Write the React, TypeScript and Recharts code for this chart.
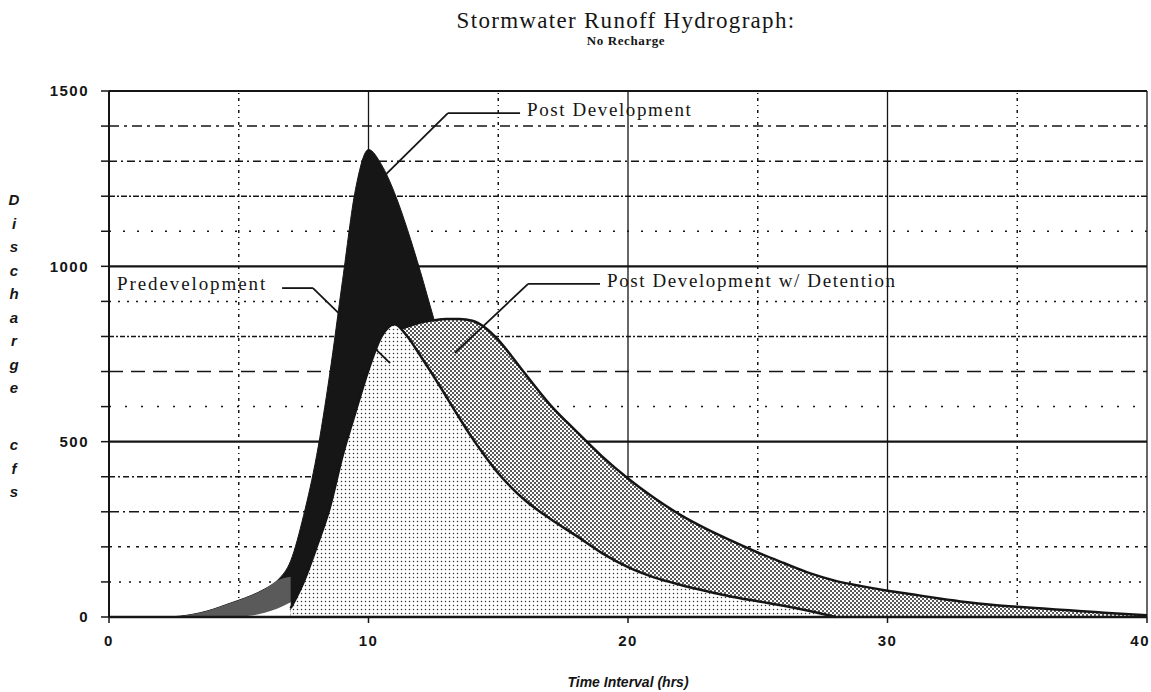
import React from "react";
import { Area, ComposedChart, ReferenceLine, XAxis, YAxis } from "recharts";

// time axis (hrs) shared by every series
const TIMES = [
  0, 2, 2.5, 3, 3.5, 4, 4.5, 5, 5.5, 6, 6.5, 7, 7.5, 8, 8.5, 9, 9.5, 10, 10.5, 11,
  11.5, 12, 12.5, 13, 13.5, 14, 14.5, 15, 15.5, 16, 17, 18, 19, 20, 21, 22, 23, 24,
  25, 26, 27, 28, 29, 30, 31, 32, 33, 34, 35, 36, 37, 38, 39, 40
];

// discharge (cfs)
const POST_DEV = [
  0, 0, 1, 5, 12, 22, 35, 48, 62, 80, 105, 160, 290, 460, 690, 960, 1220, 1333, 1290, 1210,
  1105, 985, 855, 730, 630, 550, 490, 430, 380, 340, 270, 215, 170, 135, 110, 88, 70, 55,
  42, 32, 24, 17, 12, 8, 5, 3, 2, 1, 0, 0, 0, 0, 0, 0
];

const EARLY_RUNOFF = [
  null, null, 1, 5, 12, 22, 35, 48, 62, 80, 105, 115, null, null, null, null, null, null, null, null,
  null, null, null, null, null, null, null, null, null, null, null, null, null, null, null, null, null, null,
  null, null, null, null, null, null, null, null, null, null, null, null, null, null, null, null
];

const EARLY_GAP = [
  null, null, null, null, null, null, null, 0, 4, 12, 24, 42, null, null, null, null, null, null, null, null,
  null, null, null, null, null, null, null, null, null, null, null, null, null, null, null, null, null, null,
  null, null, null, null, null, null, null, null, null, null, null, null, null, null, null, null
];

const PRE_DEV = [
  null, null, null, null, null, null, null, null, null, null, null, 25, 100, 200, 310, 460, 585, 705, 800, 835,
  800, 745, 688, 628, 568, 510, 458, 410, 370, 335, 280, 232, 182, 142, 113, 92, 74, 58,
  45, 32, 17, 0, null, null, null, null, null, null, null, null, null, null, null, null
];

const DETENTION = [
  null, null, null, null, null, null, null, null, null, null, null, 20, 95, 190, 300, 445, 570, 690, 780, 815,
  828, 840, 846, 850, 850, 845, 825, 790, 745, 697, 605, 530, 458, 395, 340, 292, 252, 217,
  184, 154, 125, 103, 88, 75, 64, 53, 43, 35, 29, 24, 19, 14, 9, 5
];

const X_TICKS = [0, 10, 20, 30, 40];
const Y_TICKS = [0, 100, 200, 300, 400, 500, 600, 700, 800, 900, 1000, 1100, 1200, 1300, 1400, 1500];

// the gridlines in the scan each have their own dash pattern
const H_GRID: { y: number; dash?: string }[] = [
  { y: 100, dash: "2 8" },
  { y: 200, dash: "3 6" },
  { y: 300, dash: "10 4 2 4" },
  { y: 400, dash: "6 3 2 3" },
  { y: 500 },
  { y: 600, dash: "2 14" },
  { y: 700, dash: "14 8" },
  { y: 800, dash: "5 2 2 2" },
  { y: 900, dash: "2 7" },
  { y: 1000 },
  { y: 1100, dash: "2 12" },
  { y: 1200, dash: "6 2 2 2" },
  { y: 1300, dash: "8 4 2 4" },
  { y: 1400, dash: "10 5 3 5" },
  { y: 1500 }
];
const V_GRID: { x: number; dash?: string }[] = [
  { x: 5, dash: "3 4 1 4" },
  { x: 10 },
  { x: 15, dash: "3 4 1 4" },
  { x: 20 },
  { x: 25, dash: "3 4 1 4" },
  { x: 30 },
  { x: 35, dash: "3 4 1 4" },
  { x: 40 }
];

// leader lines for the labels, in data units
const LEADERS = [
  [{ x: 10.64, y: 1260 }, { x: 13.06, y: 1437 }],
  [{ x: 13.06, y: 1437 }, { x: 15.84, y: 1437 }],
  [{ x: 6.67, y: 938 }, { x: 7.86, y: 938 }],
  [{ x: 7.86, y: 938 }, { x: 10.83, y: 724 }],
  [{ x: 18.92, y: 950 }, { x: 16.15, y: 950 }],
  [{ x: 16.15, y: 950 }, { x: 13.33, y: 753 }]
];

const data = TIMES.map((t, i) => ({
  t,
  post: POST_DEV[i],
  early: EARLY_RUNOFF[i],
  gap: EARLY_GAP[i],
  pre: PRE_DEV[i],
  det: DETENTION[i]
}));

const SANS = "'Liberation Sans', Arial, sans-serif";
const SERIF = "'Liberation Serif', 'Times New Roman', serif";
const INK = "#151515";

const tickStyle = { fontSize: 15, fontWeight: 700, fill: INK, fontFamily: SANS, letterSpacing: 1.5 };

// x tick that keeps the last label inside the picture
function XTick(props: any) {
  const { x, y, payload } = props;
  const last = payload.value === 40;
  return (
    <text
      x={last ? 1150 : x}
      y={y}
      dy="0.71em"
      textAnchor={last ? "end" : "middle"}
      fontSize={15}
      fontWeight={700}
      fill={INK}
      fontFamily={SANS}
      letterSpacing={1.5}
    >
      {payload.value}
    </text>
  );
}

export default function App() {
  const yLetters = "Discharge cfs".split("");
  return (
    <div style={{ position: "absolute", left: 0, top: 0, width: 1151, height: 692, background: "#fff" }}>
      <ComposedChart
        width={1151}
        height={692}
        data={data}
        margin={{ top: 91, right: 4, bottom: 0, left: 0 }}
      >
        <defs>
          <pattern id="lightDots" width="4" height="4" patternUnits="userSpaceOnUse">
            <rect width="4" height="4" fill="#fff" />
            <circle cx="1.5" cy="1.5" r="0.75" fill="#333" />
          </pattern>
          <pattern id="denseDots" width="4" height="4" patternUnits="userSpaceOnUse">
            <rect width="4" height="4" fill="#fff" />
            <circle cx="1" cy="1" r="1" fill="#222" />
            <circle cx="3" cy="3" r="1" fill="#222" />
          </pattern>
        </defs>

        {H_GRID.map((g) => (
          <ReferenceLine
            key={"h" + g.y}
            y={g.y}
            stroke={INK}
            strokeWidth={g.dash ? 1.5 : 2.2}
            strokeDasharray={g.dash}
            zIndex={-50}
          />
        ))}
        {V_GRID.map((g) => (
          <ReferenceLine
            key={"v" + g.x}
            x={g.x}
            stroke={INK}
            strokeWidth={g.dash ? 1.5 : 1.3}
            strokeDasharray={g.dash}
            zIndex={-50}
          />
        ))}

        <XAxis
          type="number"
          dataKey="t"
          domain={[0, 40]}
          ticks={X_TICKS}
          interval={0}
          height={75}
          tickSize={6}
          tickMargin={12}
          tick={<XTick />}
          axisLine={{ stroke: INK, strokeWidth: 2.5 }}
          tickLine={{ stroke: INK, strokeWidth: 1.5 }}
        />
        <YAxis
          type="number"
          domain={[0, 1500]}
          ticks={Y_TICKS}
          interval={0}
          width={109}
          tickSize={8}
          tickMargin={12}
          tick={tickStyle}
          tickFormatter={(v: number) => (v % 500 === 0 ? String(v) : "")}
          axisLine={{ stroke: INK, strokeWidth: 2 }}
          tickLine={{ stroke: INK, strokeWidth: 1.5 }}
        />

        <Area
          type="monotone"
          dataKey="post"
          fill="#161616"
          fillOpacity={1}
          stroke="#161616"
          strokeWidth={1}
          dot={false}
          activeDot={false}
          isAnimationActive={false}
        />
        <Area
          type="monotone"
          dataKey="early"
          fill="#5a5a5a"
          fillOpacity={1}
          stroke="none"
          dot={false}
          activeDot={false}
          isAnimationActive={false}
        />
        <Area
          type="monotone"
          dataKey="gap"
          fill="#fff"
          fillOpacity={1}
          stroke="none"
          dot={false}
          activeDot={false}
          isAnimationActive={false}
        />
        <Area
          type="monotone"
          dataKey="det"
          fill="url(#denseDots)"
          fillOpacity={1}
          stroke={INK}
          strokeWidth={2.5}
          dot={false}
          activeDot={false}
          isAnimationActive={false}
        />
        <Area
          type="monotone"
          dataKey="pre"
          fill="url(#lightDots)"
          fillOpacity={1}
          stroke={INK}
          strokeWidth={2.5}
          dot={false}
          activeDot={false}
          isAnimationActive={false}
        />

        {LEADERS.map((seg, i) => (
          <ReferenceLine
            key={"l" + i}
            segment={seg}
            stroke={INK}
            strokeWidth={1.8}
            ifOverflow="visible"
            zIndex={2000}
          />
        ))}
      </ComposedChart>

      <svg
        width={1151}
        height={692}
        style={{ position: "absolute", left: 0, top: 0, pointerEvents: "none" }}
      >
        <text x={626} y={28} textAnchor="middle" fontFamily={SERIF} fontSize={23} letterSpacing={1.3} fill={INK}>
          Stormwater Runoff Hydrograph:
        </text>
        <text x={626} y={45} textAnchor="middle" fontFamily={SERIF} fontSize={13} fontWeight={700} letterSpacing={0.6} fill={INK}>
          No Recharge
        </text>

        <text x={527} y={116} fontFamily={SERIF} fontSize={19} letterSpacing={1.6} fill={INK}>
          Post Development
        </text>
        <text x={117} y={290} fontFamily={SERIF} fontSize={19} letterSpacing={1.9} fill={INK}>
          Predevelopment
        </text>
        <text x={607} y={287} fontFamily={SERIF} fontSize={19} letterSpacing={1.6} fill={INK}>
          Post Development w/ Detention
        </text>

        {yLetters.map((ch, i) =>
          ch === " " ? null : (
            <text
              key={i}
              x={14}
              y={(i < 9 ? 200 + i * 23.5 : 445 + (i - 10) * 23.5) + 5}
              textAnchor="middle"
              fontFamily={SANS}
              fontSize={15}
              fontWeight={700}
              fontStyle="italic"
              fill={INK}
            >
              {ch}
            </text>
          )
        )}

        <text x={628} y={687} textAnchor="middle" fontFamily={SANS} fontSize={14} fontWeight={700} fontStyle="italic" fill={INK}>
          Time Interval (hrs)
        </text>
      </svg>
    </div>
  );
}
